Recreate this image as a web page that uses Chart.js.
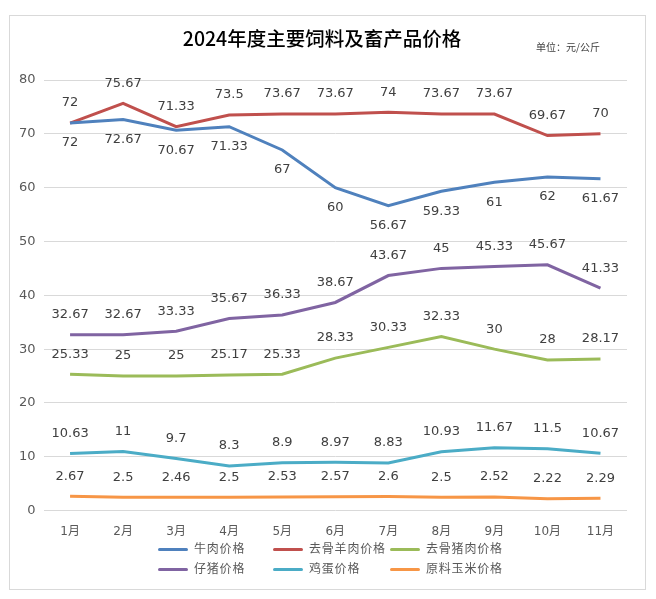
<!DOCTYPE html>
<html>
<head>
<meta charset="utf-8">
<script src="https://cdn.jsdelivr.net/npm/chart.js@4/dist/chart.umd.min.js"></script>
<style>
  body { margin: 0; background: #fff; }
  #box { position: absolute; left: 9px; top: 15px; width: 635px; height: 573px; border: 1px solid #d9d9d9; }
  #wrap { position: absolute; left: 0; top: 0; width: 656px; height: 599px; }
  #title { position: absolute; left: 0; width: 644px; top: 23px; text-align: center; font: 500 19.5px "Noto Sans CJK SC", sans-serif; color: #000; }
  #unit { position: absolute; left: 536px; top: 39px; font: 10px "Noto Sans CJK SC", sans-serif; color: #404040; }
  #legend { position: absolute; left: 158px; top: 539px; font: 12px "Noto Sans CJK SC", sans-serif; color: #595959; letter-spacing: 0.8px; }
  .item { position: absolute; white-space: nowrap; }
  .item span { display: inline-block; width: 30px; height: 3px; border-radius: 2px; vertical-align: middle; margin-right: 6px; }
</style>
</head>
<body>
<div id="box"></div>
<div id="wrap"><canvas id="lineChart" width="656" height="599"></canvas></div>
<div id="title">2024年度主要饲料及畜产品价格</div>
<div id="unit">单位：元/公斤</div>
<div id="legend"></div>
<script>
var meses = ["1月", "2月", "3月", "4月", "5月", "6月", "7月", "8月", "9月", "10月", "11月"];
var nombres = ["牛肉价格", "去骨羊肉价格", "去骨猪肉价格", "仔猪价格", "鸡蛋价格", "原料玉米价格"];
var colores = ["#4F81BD", "#C0504D", "#9BBB59", "#8064A2", "#4BACC6", "#F79646"];

var niuRou = [72, 72.67, 70.67, 71.33, 67, 60, 56.67, 59.33, 61, 62, 61.67];
var yangRou = [72, 75.67, 71.33, 73.5, 73.67, 73.67, 74, 73.67, 73.67, 69.67, 70];
var zhuRou = [25.33, 25, 25, 25.17, 25.33, 28.33, 30.33, 32.33, 30, 28, 28.17];
var zaiZhu = [32.67, 32.67, 33.33, 35.67, 36.33, 38.67, 43.67, 45, 45.33, 45.67, 41.33];
var jiDan = [10.63, 11, 9.7, 8.3, 8.9, 8.97, 8.83, 10.93, 11.67, 11.5, 10.67];
var yuMi = [2.67, 2.5, 2.46, 2.5, 2.53, 2.57, 2.6, 2.5, 2.52, 2.22, 2.29];

var series = [niuRou, yangRou, zhuRou, zaiZhu, jiDan, yuMi];

// etiquetas de valores: el primero (牛肉) va debajo, los demas arriba
var etiquetas = {
    id: "etiquetas",
    afterDatasetsDraw: function(chart) {
        var ctx = chart.ctx;
        ctx.save();
        ctx.font = "13px 'DejaVu Sans', sans-serif";
        ctx.fillStyle = "#404040";
        ctx.textAlign = "center";
        ctx.textBaseline = "middle";
        chart.data.datasets.forEach(function(ds, i) {
            var meta = chart.getDatasetMeta(i);
            meta.data.forEach(function(p, j) {
                var dy = i === 0 ? 20 : -20;
                ctx.fillText(String(ds.data[j]), p.x, p.y + dy);
            });
        });
        ctx.restore();
    }
};

var datasets = [];
for (var i = 0; i < series.length; i++) {
    datasets.push({
        label: nombres[i],
        data: series[i],
        borderColor: colores[i],
        backgroundColor: colores[i],
        borderWidth: 3,
        pointRadius: 0,
        tension: 0,
        fill: false
    });
}

var leyenda = document.getElementById("legend");
var colX = [0, 115, 232];
for (var i = 0; i < nombres.length; i++) {
    var div = document.createElement("div");
    div.className = "item";
    div.style.left = colX[i % 3] + "px";
    div.style.top = (Math.floor(i / 3) * 20) + "px";
    div.innerHTML = '<span style="background:' + colores[i] + '"></span>' + nombres[i];
    leyenda.appendChild(div);
}

new Chart(document.getElementById("lineChart").getContext("2d"), {
    type: "line",
    data: { labels: meses, datasets: datasets },
    options: {
        responsive: false,
        animation: false,
        layout: { padding: { left: 11, right: 29, top: 80, bottom: 54 } },
        plugins: {
            legend: { display: false },
            title: { display: false },
            tooltip: { enabled: false }
        },
        scales: {
            x: {
                offset: true,
                grid: { display: false },
                border: { display: false },
                ticks: { color: "#595959", font: { size: 12, family: "'DejaVu Sans', 'Noto Sans CJK SC', sans-serif" }, padding: 6 }
            },
            y: {
                min: 0,
                max: 80,
                ticks: { stepSize: 10, color: "#595959", font: { size: 13, family: "'DejaVu Sans', sans-serif" }, padding: 8 },
                grid: { color: "#d9d9d9", drawTicks: false },
                border: { display: false }
            }
        }
    },
    plugins: [etiquetas]
});
</script>
</body>
</html>
